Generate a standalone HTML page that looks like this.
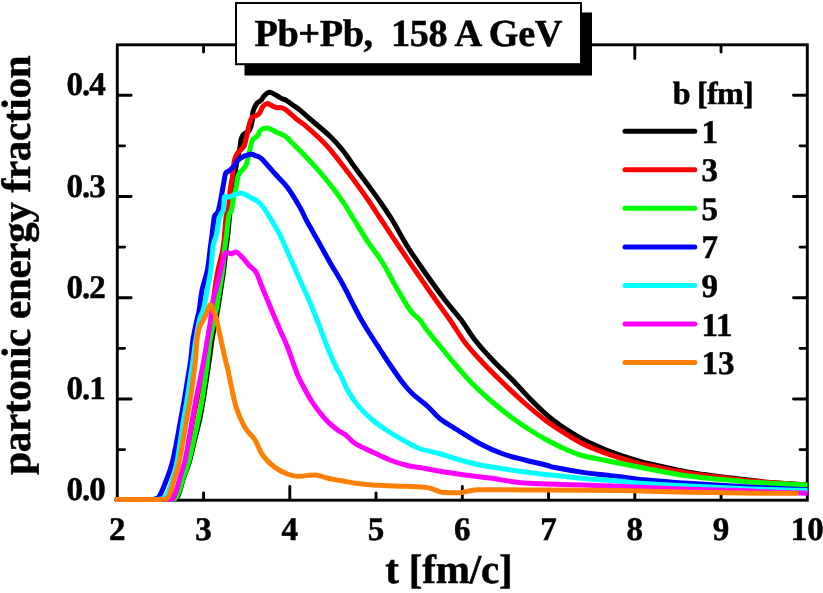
<!DOCTYPE html>
<html><head><meta charset="utf-8"><title>Pb+Pb 158 A GeV</title>
<style>html,body{margin:0;padding:0;background:#fff;}body{width:823px;height:593px;overflow:hidden;}svg{display:block;}text{font-family:"Liberation Serif",serif;font-weight:bold;fill:#000;stroke:#000;stroke-width:0.5px;-webkit-font-smoothing:antialiased;text-rendering:geometricPrecision;}svg{will-change:transform;}</style></head><body>
<svg width="823" height="593" viewBox="0 0 823 593">
<rect x="0" y="0" width="823" height="593" fill="#fff"/>
<rect x="117.3" y="44.8" width="690.00" height="455.40" fill="none" stroke="#000" stroke-width="2.9"/>
<path d="M203.55,499.60 v-6.70 M203.55,45.40 v6.70 M289.80,499.60 v-13.20 M289.80,45.40 v13.20 M376.05,499.60 v-6.70 M376.05,45.40 v6.70 M462.30,499.60 v-13.20 M462.30,45.40 v13.20 M548.55,499.60 v-6.70 M548.55,45.40 v6.70 M634.80,499.60 v-13.20 M634.80,45.40 v13.20 M721.05,499.60 v-6.70 M721.05,45.40 v6.70 M117.90,449.58 h6.70 M806.70,449.58 h-6.70 M117.90,398.96 h13.20 M806.70,398.96 h-13.20 M117.90,348.34 h6.70 M806.70,348.34 h-6.70 M117.90,297.72 h13.20 M806.70,297.72 h-13.20 M117.90,247.11 h6.70 M806.70,247.11 h-6.70 M117.90,196.49 h13.20 M806.70,196.49 h-13.20 M117.90,145.87 h6.70 M806.70,145.87 h-6.70 M117.90,95.25 h13.20 M806.70,95.25 h-13.20" fill="none" stroke="#000" stroke-width="2.9" stroke-linecap="round"/>
<clipPath id="cp"><rect x="0" y="0" width="807.6" height="593"/></clipPath>
<g fill="none" stroke-width="5" stroke-linecap="round" stroke-linejoin="round" clip-path="url(#cp)">
<path stroke="#000000" d="M117.00,499.50 C125.83,499.50 160.42,499.62 170.00,499.50 C179.58,499.38 173.27,499.22 174.50,498.80 C175.73,498.38 176.47,498.47 177.40,497.00 C178.33,495.53 179.18,492.83 180.10,490.00 C181.02,487.17 181.83,483.33 182.90,480.00 C183.97,476.67 185.33,473.33 186.50,470.00 C187.67,466.67 188.55,465.00 189.90,460.00 C191.25,455.00 192.99,446.67 194.60,440.00 C196.21,433.33 198.12,426.67 199.55,420.00 C200.98,413.33 202.07,406.67 203.20,400.00 C204.32,393.33 205.28,386.67 206.30,380.00 C207.32,373.33 208.35,366.67 209.30,360.00 C210.25,353.33 210.95,346.67 212.00,340.00 C213.05,333.33 214.63,325.17 215.60,320.00 C216.57,314.83 216.95,314.00 217.80,309.00 C218.65,304.00 219.72,296.50 220.70,290.00 C221.68,283.50 222.85,276.67 223.70,270.00 C224.55,263.33 225.12,255.83 225.80,250.00 C226.48,244.17 227.15,240.83 227.80,235.00 C228.45,229.17 229.08,220.83 229.70,215.00 C230.32,209.17 230.87,205.00 231.50,200.00 C232.13,195.00 232.83,190.00 233.50,185.00 C234.17,180.00 234.83,174.50 235.50,170.00 C236.17,165.50 236.83,161.33 237.50,158.00 C238.17,154.67 239.03,152.17 239.50,150.00 C239.97,147.83 240.05,146.67 240.30,145.00 C240.55,143.33 240.55,141.67 241.00,140.00 C241.45,138.33 242.08,136.25 243.00,135.00 C243.92,133.75 245.42,133.33 246.50,132.50 C247.58,131.67 248.75,131.08 249.50,130.00 C250.25,128.92 250.52,127.67 251.00,126.00 C251.48,124.33 252.11,122.22 252.40,120.00 C252.69,117.78 252.45,114.65 252.75,112.70 C253.05,110.75 253.47,109.88 254.20,108.30 C254.92,106.72 255.95,104.53 257.10,103.20 C258.25,101.87 259.95,101.50 261.10,100.30 C262.25,99.10 262.65,97.33 264.00,96.00 C265.35,94.67 267.37,92.55 269.20,92.30 C271.03,92.05 273.07,93.53 275.00,94.50 C276.93,95.47 278.87,97.07 280.80,98.10 C282.73,99.13 284.42,99.42 286.60,100.70 C288.78,101.98 291.67,104.23 293.90,105.80 C296.13,107.37 297.11,107.73 300.00,110.10 C302.89,112.47 306.25,115.64 311.25,120.00 C316.25,124.36 324.79,131.25 330.00,136.25 C335.21,141.25 338.33,144.79 342.50,150.00 C346.67,155.21 350.83,161.78 355.00,167.50 C359.17,173.22 363.33,178.62 367.50,184.30 C371.67,189.98 375.83,195.57 380.00,201.60 C384.17,207.63 387.92,213.02 392.50,220.50 C397.08,227.98 402.08,237.83 407.50,246.50 C412.92,255.17 418.75,263.58 425.00,272.50 C431.25,281.42 438.96,292.08 445.00,300.00 C451.04,307.92 456.25,313.33 461.25,320.00 C466.25,326.67 469.79,333.33 475.00,340.00 C480.21,346.67 486.25,353.33 492.50,360.00 C498.75,366.67 506.25,373.53 512.50,380.00 C518.75,386.47 524.58,393.25 530.00,398.80 C535.42,404.35 540.83,409.52 545.00,413.30 C549.17,417.08 551.67,418.97 555.00,421.50 C558.33,424.03 560.33,425.50 565.00,428.50 C569.67,431.50 576.33,436.00 583.00,439.50 C589.67,443.00 599.08,447.00 605.00,449.50 C610.92,452.00 612.67,452.52 618.50,454.50 C624.33,456.48 634.75,459.83 640.00,461.40 C645.25,462.97 641.90,462.12 650.00,463.90 C658.10,465.68 673.60,469.57 688.60,472.10 C703.60,474.63 726.43,477.38 740.00,479.10 C753.57,480.82 759.00,481.43 770.00,482.40 C781.00,483.37 799.00,484.41 806.00,484.90 C813.00,485.39 811.00,485.25 812.00,485.32"/>
<path stroke="#ff0000" d="M117.00,499.50 C125.17,499.50 157.17,499.62 166.00,499.50 C174.83,499.38 168.83,499.22 170.00,498.80 C171.17,498.38 171.92,498.47 173.00,497.00 C174.08,495.53 175.33,492.83 176.50,490.00 C177.67,487.17 178.42,485.00 180.00,480.00 C181.58,475.00 183.83,470.00 186.00,460.00 C188.17,450.00 191.17,430.00 193.00,420.00 C194.83,410.00 195.67,406.67 197.00,400.00 C198.33,393.33 199.67,386.67 201.00,380.00 C202.33,373.33 203.75,366.67 205.00,360.00 C206.25,353.33 207.42,346.67 208.50,340.00 C209.58,333.33 210.50,328.00 211.50,320.00 C212.50,312.00 213.42,300.33 214.50,292.00 C215.58,283.67 216.62,277.00 218.00,270.00 C219.38,263.00 221.72,255.83 222.80,250.00 C223.88,244.17 223.92,240.83 224.50,235.00 C225.08,229.17 225.67,219.17 226.30,215.00 C226.93,210.83 227.66,214.17 228.30,210.00 C228.94,205.83 229.48,195.45 230.15,190.00 C230.82,184.55 231.58,182.30 232.30,177.30 C233.03,172.30 233.59,164.08 234.50,160.00 C235.41,155.92 236.58,154.63 237.75,152.80 C238.92,150.97 240.38,150.30 241.50,149.00 C242.62,147.70 243.58,147.40 244.50,145.00 C245.42,142.60 246.23,137.93 247.00,134.60 C247.77,131.27 248.57,127.20 249.10,125.00 C249.63,122.80 249.65,122.73 250.20,121.40 C250.75,120.07 251.37,117.97 252.40,117.00 C253.43,116.03 255.18,116.32 256.40,115.60 C257.62,114.88 258.67,114.15 259.70,112.70 C260.73,111.25 261.38,108.42 262.60,106.90 C263.82,105.38 265.55,103.85 267.00,103.60 C268.45,103.35 269.73,104.73 271.30,105.40 C272.87,106.07 274.82,107.23 276.40,107.60 C277.98,107.97 279.33,107.30 280.80,107.60 C282.27,107.90 283.50,108.30 285.20,109.40 C286.90,110.50 289.05,112.55 291.00,114.20 C292.95,115.85 295.40,118.03 296.90,119.30 C298.40,120.57 298.65,120.80 300.00,121.80 C301.35,122.80 302.08,122.85 305.00,125.30 C307.92,127.75 313.33,132.50 317.50,136.50 C321.67,140.50 325.83,144.50 330.00,149.30 C334.17,154.10 338.33,159.90 342.50,165.30 C346.67,170.70 350.83,176.08 355.00,181.70 C359.17,187.32 363.33,192.95 367.50,199.00 C371.67,205.05 375.83,211.70 380.00,218.00 C384.17,224.30 389.17,231.80 392.50,236.80 C395.83,241.80 395.83,241.84 400.00,248.00 C404.17,254.16 411.25,264.67 417.50,273.75 C423.75,282.83 432.08,294.79 437.50,302.50 C442.92,310.21 445.42,313.33 450.00,320.00 C454.58,326.67 459.58,335.42 465.00,342.50 C470.42,349.58 476.25,355.83 482.50,362.50 C488.75,369.17 495.83,376.04 502.50,382.50 C509.17,388.96 515.42,395.00 522.50,401.25 C529.58,407.50 537.92,414.62 545.00,420.00 C552.08,425.38 558.67,429.50 565.00,433.50 C571.33,437.50 576.33,440.75 583.00,444.00 C589.67,447.25 599.08,450.75 605.00,453.00 C610.92,455.25 612.67,455.70 618.50,457.50 C624.33,459.30 634.75,462.43 640.00,463.80 C645.25,465.17 641.90,464.12 650.00,465.70 C658.10,467.28 673.60,470.97 688.60,473.30 C703.60,475.63 726.43,478.15 740.00,479.70 C753.57,481.25 759.00,481.73 770.00,482.60 C781.00,483.47 799.00,484.45 806.00,484.90 C813.00,485.35 811.00,485.22 812.00,485.28"/>
<path stroke="#00ff00" d="M117.00,499.50 C125.67,499.50 159.58,499.62 169.00,499.50 C178.42,499.38 172.25,499.22 173.50,498.80 C174.75,498.38 175.50,498.47 176.50,497.00 C177.50,495.53 178.50,492.83 179.50,490.00 C180.50,487.17 181.42,483.33 182.50,480.00 C183.58,476.67 184.88,473.33 186.00,470.00 C187.12,466.67 187.90,465.00 189.20,460.00 C190.50,455.00 192.30,446.67 193.80,440.00 C195.30,433.33 196.82,426.67 198.20,420.00 C199.58,413.33 200.97,406.67 202.10,400.00 C203.23,393.33 204.07,386.67 205.00,380.00 C205.93,373.33 206.85,366.67 207.70,360.00 C208.55,353.33 209.00,346.67 210.10,340.00 C211.20,333.33 213.23,325.17 214.30,320.00 C215.37,314.83 215.63,314.00 216.50,309.00 C217.37,304.00 218.47,296.50 219.50,290.00 C220.53,283.50 221.85,276.67 222.70,270.00 C223.55,263.33 223.97,255.83 224.60,250.00 C225.23,244.17 225.77,240.83 226.50,235.00 C227.23,229.17 228.15,219.17 229.00,215.00 C229.85,210.83 230.85,212.92 231.60,210.00 C232.35,207.08 232.83,200.83 233.50,197.50 C234.17,194.17 234.88,193.37 235.60,190.00 C236.32,186.63 237.07,180.22 237.80,177.30 C238.53,174.38 238.72,174.34 240.00,172.50 C241.28,170.66 244.23,168.33 245.50,166.25 C246.77,164.17 246.83,162.84 247.60,160.00 C248.37,157.16 249.45,152.20 250.10,149.20 C250.75,146.20 251.02,143.62 251.50,142.00 C251.98,140.38 252.32,140.25 253.00,139.50 C253.68,138.75 254.77,138.25 255.60,137.50 C256.43,136.75 257.27,136.08 258.00,135.00 C258.73,133.92 259.17,132.03 260.00,131.00 C260.83,129.97 261.78,129.30 263.00,128.80 C264.22,128.30 265.88,127.88 267.30,128.00 C268.72,128.12 270.05,128.83 271.50,129.50 C272.95,130.17 273.75,130.92 276.00,132.00 C278.25,133.08 282.25,134.12 285.00,136.00 C287.75,137.88 289.17,140.02 292.50,143.30 C295.83,146.58 300.83,151.35 305.00,155.70 C309.17,160.05 313.33,164.63 317.50,169.40 C321.67,174.17 325.83,179.00 330.00,184.30 C334.17,189.60 338.75,195.75 342.50,201.20 C346.25,206.65 348.33,210.32 352.50,217.00 C356.67,223.68 362.50,233.67 367.50,241.25 C372.50,248.83 377.92,255.21 382.50,262.50 C387.08,269.79 390.42,277.08 395.00,285.00 C399.58,292.92 405.83,304.17 410.00,310.00 C414.17,315.83 417.50,317.08 420.00,320.00 C422.50,322.92 422.50,324.17 425.00,327.50 C427.50,330.83 430.42,334.38 435.00,340.00 C439.58,345.62 446.67,354.38 452.50,361.25 C458.33,368.12 463.75,374.79 470.00,381.25 C476.25,387.71 483.33,394.17 490.00,400.00 C496.67,405.83 503.33,411.25 510.00,416.25 C516.67,421.25 524.17,426.21 530.00,430.00 C535.83,433.79 539.17,435.83 545.00,439.00 C550.83,442.17 558.67,446.21 565.00,449.00 C571.33,451.79 576.33,453.87 583.00,455.75 C589.67,457.63 599.08,459.09 605.00,460.30 C610.92,461.51 612.67,461.83 618.50,463.00 C624.33,464.17 634.75,466.27 640.00,467.30 C645.25,468.33 641.90,467.75 650.00,469.20 C658.10,470.65 673.60,474.00 688.60,476.00 C703.60,478.00 726.43,480.00 740.00,481.20 C753.57,482.40 759.00,482.57 770.00,483.20 C781.00,483.83 799.00,484.65 806.00,485.00 C813.00,485.35 811.00,485.25 812.00,485.30"/>
<path stroke="#0000ff" d="M117.00,499.50 C122.50,499.50 143.67,499.58 150.00,499.50 C156.33,499.42 153.58,499.33 155.00,499.00 C156.42,498.67 157.33,498.83 158.50,497.50 C159.67,496.17 160.68,493.92 162.00,491.00 C163.32,488.08 165.07,483.50 166.40,480.00 C167.73,476.50 168.93,473.33 170.00,470.00 C171.07,466.67 171.68,465.00 172.85,460.00 C174.02,455.00 175.71,446.67 177.00,440.00 C178.29,433.33 179.39,426.67 180.60,420.00 C181.81,413.33 183.10,406.67 184.25,400.00 C185.40,393.33 186.43,386.67 187.50,380.00 C188.57,373.33 189.80,366.67 190.70,360.00 C191.60,353.33 191.87,346.67 192.90,340.00 C193.93,333.33 195.83,325.10 196.90,320.00 C197.97,314.90 198.43,314.40 199.30,309.40 C200.17,304.40 200.75,296.57 202.10,290.00 C203.45,283.43 206.08,276.67 207.40,270.00 C208.72,263.33 209.23,255.83 210.00,250.00 C210.77,244.17 211.28,240.50 212.00,235.00 C212.72,229.50 213.63,220.50 214.30,217.00 C214.97,213.50 215.30,215.17 216.00,214.00 C216.70,212.83 217.42,214.00 218.50,210.00 C219.58,206.00 221.47,195.45 222.50,190.00 C223.53,184.55 224.12,180.22 224.70,177.30 C225.28,174.38 225.28,173.55 226.00,172.50 C226.72,171.45 227.67,172.08 229.00,171.00 C230.33,169.92 232.23,168.07 234.00,166.00 C235.77,163.93 236.85,160.55 239.60,158.60 C242.35,156.65 247.77,154.73 250.50,154.30 C253.23,153.87 254.18,155.28 256.00,156.00 C257.82,156.72 258.23,155.64 261.40,158.60 C264.57,161.56 270.65,168.93 275.00,173.75 C279.35,178.57 283.33,181.88 287.50,187.50 C291.67,193.12 296.88,202.08 300.00,207.50 C303.12,212.92 303.33,214.58 306.25,220.00 C309.17,225.42 313.54,232.92 317.50,240.00 C321.46,247.08 325.83,255.21 330.00,262.50 C334.17,269.79 338.33,276.17 342.50,283.75 C346.67,291.33 351.75,301.79 355.00,308.00 C358.25,314.21 359.50,316.67 362.00,321.00 C364.50,325.33 367.00,329.25 370.00,334.00 C373.00,338.75 377.08,345.00 380.00,349.50 C382.92,354.00 383.75,355.50 387.50,361.00 C391.25,366.50 398.33,377.04 402.50,382.50 C406.67,387.96 408.33,389.79 412.50,393.75 C416.67,397.71 422.92,402.08 427.50,406.25 C432.08,410.42 435.00,414.79 440.00,418.75 C445.00,422.71 450.83,425.83 457.50,430.00 C464.17,434.17 472.50,439.79 480.00,443.75 C487.50,447.71 495.00,451.04 502.50,453.75 C510.00,456.46 517.79,458.12 525.00,460.00 C532.21,461.88 540.75,463.75 545.75,465.00 C550.75,466.25 548.79,466.27 555.00,467.50 C561.21,468.73 574.67,471.15 583.00,472.40 C591.33,473.65 599.08,474.33 605.00,475.00 C610.92,475.67 612.67,475.67 618.50,476.40 C624.33,477.13 634.75,478.77 640.00,479.40 C645.25,480.03 641.90,479.55 650.00,480.20 C658.10,480.85 673.60,482.27 688.60,483.30 C703.60,484.33 726.43,485.62 740.00,486.40 C753.57,487.18 759.00,487.43 770.00,488.00 C781.00,488.57 799.00,489.45 806.00,489.80 C813.00,490.15 811.00,490.05 812.00,490.10"/>
<path stroke="#00ffff" d="M117.00,499.50 C123.17,499.50 147.00,499.53 154.00,499.50 C161.00,499.47 157.50,499.47 159.00,499.30 C160.50,499.13 161.83,499.05 163.00,498.50 C164.17,497.95 165.00,497.42 166.00,496.00 C167.00,494.58 167.97,492.67 169.00,490.00 C170.03,487.33 171.17,483.33 172.20,480.00 C173.23,476.67 174.33,473.33 175.20,470.00 C176.07,466.67 176.52,465.00 177.40,460.00 C178.28,455.00 179.47,446.67 180.50,440.00 C181.53,433.33 182.47,426.67 183.55,420.00 C184.63,413.33 185.93,406.67 187.00,400.00 C188.07,393.33 189.00,386.67 190.00,380.00 C191.00,373.33 192.03,366.67 193.00,360.00 C193.97,353.33 194.72,346.67 195.80,340.00 C196.88,333.33 198.22,325.17 199.50,320.00 C200.78,314.83 202.22,314.00 203.50,309.00 C204.78,304.00 205.98,296.50 207.20,290.00 C208.42,283.50 209.90,276.67 210.80,270.00 C211.70,263.33 212.15,254.33 212.60,250.00 C213.05,245.67 212.89,246.50 213.50,244.00 C214.11,241.50 215.33,239.00 216.25,235.00 C217.17,231.00 218.21,223.50 219.00,220.00 C219.79,216.50 220.30,215.67 221.00,214.00 C221.70,212.33 222.70,212.00 223.20,210.00 C223.70,208.00 223.75,204.25 224.00,202.00 C224.25,199.75 223.87,197.33 224.70,196.50 C225.53,195.67 227.42,197.28 229.00,197.00 C230.58,196.72 232.25,195.47 234.20,194.80 C236.15,194.13 238.77,193.00 240.70,193.00 C242.63,193.00 243.98,193.97 245.80,194.80 C247.62,195.63 249.65,196.92 251.60,198.00 C253.55,199.08 255.55,199.77 257.50,201.30 C259.45,202.83 261.55,205.00 263.30,207.20 C265.05,209.40 266.47,212.03 268.00,214.50 C269.53,216.97 270.50,218.58 272.50,222.00 C274.50,225.42 277.08,229.08 280.00,235.00 C282.92,240.92 286.67,250.00 290.00,257.50 C293.33,265.00 296.67,272.50 300.00,280.00 C303.33,287.50 306.67,294.58 310.00,302.50 C313.33,310.42 317.08,320.00 320.00,327.50 C322.92,335.00 324.79,340.83 327.50,347.50 C330.21,354.17 334.17,363.12 336.25,367.50 C338.33,371.88 338.12,370.00 340.00,373.75 C341.88,377.50 344.58,384.79 347.50,390.00 C350.42,395.21 353.33,400.00 357.50,405.00 C361.67,410.00 367.08,415.42 372.50,420.00 C377.92,424.58 384.17,428.75 390.00,432.50 C395.83,436.25 402.50,439.79 407.50,442.50 C412.50,445.21 414.58,446.88 420.00,448.75 C425.42,450.62 433.33,451.88 440.00,453.75 C446.67,455.62 453.33,458.12 460.00,460.00 C466.67,461.88 472.50,463.50 480.00,465.00 C487.50,466.50 496.67,467.75 505.00,469.00 C513.33,470.25 522.88,471.55 530.00,472.50 C537.12,473.45 538.87,473.72 547.70,474.70 C556.53,475.68 571.20,477.35 583.00,478.40 C594.80,479.45 609.00,480.20 618.50,481.00 C628.00,481.80 628.32,482.35 640.00,483.20 C651.68,484.05 671.93,485.22 688.60,486.10 C705.27,486.98 726.43,487.93 740.00,488.50 C753.57,489.07 759.00,489.15 770.00,489.50 C781.00,489.85 799.00,490.39 806.00,490.60 C813.00,490.81 811.00,490.75 812.00,490.78"/>
<path stroke="#ff00ff" d="M117.00,499.50 C125.42,499.50 158.42,499.62 167.50,499.50 C176.58,499.38 170.42,499.22 171.50,498.80 C172.58,498.38 173.15,498.47 174.00,497.00 C174.85,495.53 175.72,492.83 176.60,490.00 C177.48,487.17 178.37,483.33 179.30,480.00 C180.23,476.67 181.22,473.33 182.20,470.00 C183.18,466.67 184.10,465.00 185.20,460.00 C186.30,455.00 187.62,446.67 188.80,440.00 C189.98,433.33 191.07,426.67 192.25,420.00 C193.43,413.33 194.61,406.67 195.90,400.00 C197.19,393.33 198.67,386.67 200.00,380.00 C201.33,373.33 202.68,366.67 203.90,360.00 C205.12,353.33 206.18,346.67 207.30,340.00 C208.42,333.33 209.90,325.00 210.60,320.00 C211.30,315.00 211.02,313.67 211.50,310.00 C211.98,306.33 212.77,301.33 213.50,298.00 C214.23,294.67 214.68,294.67 215.90,290.00 C217.12,285.33 219.53,275.33 220.80,270.00 C222.07,264.67 222.63,260.92 223.50,258.00 C224.37,255.08 224.71,253.21 226.00,252.50 C227.29,251.79 229.54,253.83 231.25,253.75 C232.96,253.67 234.38,251.38 236.25,252.00 C238.12,252.62 240.42,255.33 242.50,257.50 C244.58,259.67 246.46,262.50 248.75,265.00 C251.04,267.50 254.17,269.17 256.25,272.50 C258.33,275.83 258.96,279.38 261.25,285.00 C263.54,290.62 266.88,298.75 270.00,306.25 C273.12,313.75 277.08,323.21 280.00,330.00 C282.92,336.79 285.00,340.67 287.50,347.00 C290.00,353.33 292.92,362.50 295.00,368.00 C297.08,373.50 297.08,374.25 300.00,380.00 C302.92,385.75 308.33,396.04 312.50,402.50 C316.67,408.96 320.83,414.17 325.00,418.75 C329.17,423.33 334.04,427.29 337.50,430.00 C340.96,432.71 342.83,432.75 345.75,435.00 C348.67,437.25 350.54,440.67 355.00,443.50 C359.46,446.33 366.67,449.25 372.50,452.00 C378.33,454.75 384.17,457.75 390.00,460.00 C395.83,462.25 401.67,464.08 407.50,465.50 C413.33,466.92 419.58,467.54 425.00,468.50 C430.42,469.46 433.33,470.17 440.00,471.25 C446.67,472.33 456.67,473.88 465.00,475.00 C473.33,476.12 481.67,476.83 490.00,478.00 C498.33,479.17 508.33,481.12 515.00,482.00 C521.67,482.88 524.55,482.95 530.00,483.30 C535.45,483.65 538.87,483.82 547.70,484.10 C556.53,484.38 571.20,484.65 583.00,485.00 C594.80,485.35 609.00,485.82 618.50,486.20 C628.00,486.58 628.32,486.78 640.00,487.30 C651.68,487.82 671.93,488.75 688.60,489.30 C705.27,489.85 726.43,490.15 740.00,490.60 C753.57,491.05 759.00,491.55 770.00,492.00 C781.00,492.45 799.00,493.05 806.00,493.30 C813.00,493.55 811.00,493.48 812.00,493.52"/>
<path stroke="#ff8000" d="M117.00,499.50 C124.42,499.50 153.42,499.62 161.50,499.50 C169.58,499.38 164.37,499.22 165.50,498.80 C166.63,498.38 167.38,498.47 168.30,497.00 C169.22,495.53 170.07,492.83 171.00,490.00 C171.93,487.17 172.90,483.33 173.90,480.00 C174.90,476.67 176.05,473.33 177.00,470.00 C177.95,466.67 178.60,465.00 179.60,460.00 C180.60,455.00 181.86,446.67 183.00,440.00 C184.14,433.33 185.27,426.67 186.45,420.00 C187.63,413.33 189.01,406.67 190.10,400.00 C191.19,393.33 192.10,386.67 193.00,380.00 C193.90,373.33 194.83,366.67 195.50,360.00 C196.17,353.33 196.38,345.33 197.00,340.00 C197.62,334.67 198.15,331.33 199.20,328.00 C200.25,324.67 202.08,322.50 203.30,320.00 C204.52,317.50 205.38,315.50 206.50,313.00 C207.62,310.50 209.00,305.83 210.00,305.00 C211.00,304.17 211.40,305.50 212.50,308.00 C213.60,310.50 215.18,314.67 216.60,320.00 C218.02,325.33 219.53,333.33 221.00,340.00 C222.47,346.67 224.32,355.33 225.40,360.00 C226.48,364.67 226.73,364.67 227.50,368.00 C228.27,371.33 228.54,373.42 230.00,380.00 C231.46,386.58 233.75,399.58 236.25,407.50 C238.75,415.42 241.88,422.08 245.00,427.50 C248.12,432.92 252.08,435.42 255.00,440.00 C257.92,444.58 259.17,450.42 262.50,455.00 C265.83,459.58 270.42,464.17 275.00,467.50 C279.58,470.83 285.83,473.54 290.00,475.00 C294.17,476.46 295.83,476.25 300.00,476.25 C304.17,476.25 310.00,474.58 315.00,475.00 C320.00,475.42 325.83,477.83 330.00,478.75 C334.17,479.67 335.00,479.66 340.00,480.50 C345.00,481.34 352.92,482.95 360.00,483.80 C367.08,484.65 375.00,485.18 382.50,485.60 C390.00,486.02 397.50,485.97 405.00,486.30 C412.50,486.63 421.67,486.68 427.50,487.60 C433.33,488.52 436.75,490.97 440.00,491.80 C443.25,492.63 444.63,492.43 447.00,492.60 C449.37,492.77 451.70,492.83 454.20,492.80 C456.70,492.77 459.37,492.73 462.00,492.40 C464.63,492.07 467.27,491.23 470.00,490.80 C472.73,490.37 472.57,489.97 478.40,489.80 C484.23,489.63 493.77,489.77 505.00,489.80 C516.23,489.83 532.75,489.92 545.75,490.00 C558.75,490.08 570.88,490.20 583.00,490.30 C595.12,490.40 607.33,490.45 618.50,490.60 C629.67,490.75 638.32,490.93 650.00,491.20 C661.68,491.47 673.60,491.90 688.60,492.20 C703.60,492.50 726.43,492.83 740.00,493.00 C753.57,493.17 760.58,493.17 770.00,493.20 C779.42,493.23 792.08,493.20 796.50,493.20"/>
</g>
<text x="117.30" y="540" font-size="33" text-anchor="middle">2</text>
<text x="203.55" y="540" font-size="33" text-anchor="middle">3</text>
<text x="289.80" y="540" font-size="33" text-anchor="middle">4</text>
<text x="376.05" y="540" font-size="33" text-anchor="middle">5</text>
<text x="462.30" y="540" font-size="33" text-anchor="middle">6</text>
<text x="548.55" y="540" font-size="33" text-anchor="middle">7</text>
<text x="634.80" y="540" font-size="33" text-anchor="middle">8</text>
<text x="721.05" y="540" font-size="33" text-anchor="middle">9</text>
<text x="807.30" y="540" font-size="33" text-anchor="middle">10</text>
<text x="66.6" y="500.40" font-size="33" letter-spacing="-1">0.0</text>
<text x="66.6" y="399.16" font-size="33" letter-spacing="-1">0.1</text>
<text x="66.6" y="297.92" font-size="33" letter-spacing="-1">0.2</text>
<text x="66.6" y="196.69" font-size="33" letter-spacing="-1">0.3</text>
<text x="66.6" y="95.45" font-size="33" letter-spacing="-1">0.4</text>
<text x="385.3" y="582.5" font-size="41" letter-spacing="-0.18">t [fm/c]</text>
<text transform="translate(29.7,474.7) rotate(-90)" font-size="41" letter-spacing="-0.29">partonic energy fraction</text>
<rect x="244.5" y="12.5" width="347.5" height="63" fill="#000"/>
<rect x="236" y="3" width="345" height="61.2" fill="#fff" stroke="#000" stroke-width="2"/>
<text x="254.4" y="45.6" font-size="38.3" letter-spacing="-0.4" xml:space="preserve">Pb+Pb,  158 A GeV</text>
<text x="672.7" y="103.8" font-size="32" letter-spacing="-0.7">b [fm]</text>
<line x1="625" y1="131.25" x2="694.8" y2="131.25" stroke="#000000" stroke-width="5" stroke-linecap="round"/>
<text x="701.4" y="142.75" font-size="33">1</text>
<line x1="625" y1="169.80" x2="694.8" y2="169.80" stroke="#ff0000" stroke-width="5" stroke-linecap="round"/>
<text x="701.4" y="181.30" font-size="33">3</text>
<line x1="625" y1="208.35" x2="694.8" y2="208.35" stroke="#00ff00" stroke-width="5" stroke-linecap="round"/>
<text x="701.4" y="219.85" font-size="33">5</text>
<line x1="625" y1="246.90" x2="694.8" y2="246.90" stroke="#0000ff" stroke-width="5" stroke-linecap="round"/>
<text x="701.4" y="258.40" font-size="33">7</text>
<line x1="625" y1="285.45" x2="694.8" y2="285.45" stroke="#00ffff" stroke-width="5" stroke-linecap="round"/>
<text x="701.4" y="296.95" font-size="33">9</text>
<line x1="625" y1="324.00" x2="694.8" y2="324.00" stroke="#ff00ff" stroke-width="5" stroke-linecap="round"/>
<text x="701.4" y="335.50" font-size="33">11</text>
<line x1="625" y1="362.55" x2="694.8" y2="362.55" stroke="#ff8000" stroke-width="5" stroke-linecap="round"/>
<text x="701.4" y="374.05" font-size="33">13</text>
</svg></body></html>
